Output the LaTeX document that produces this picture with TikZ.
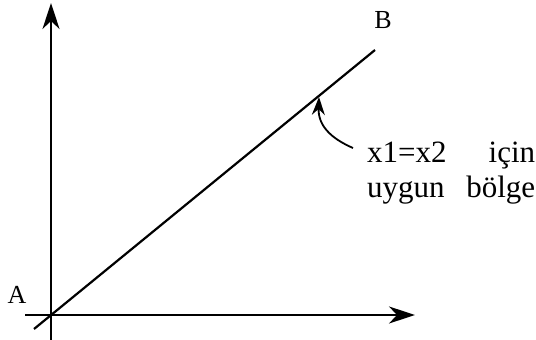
\documentclass[tikz,border=0pt]{standalone}
\usepackage{fontspec}
\setmainfont{Liberation Serif}
\usetikzlibrary{arrows.meta}
\begin{document}
\begin{tikzpicture}[x=1pt,y=1pt,
  axis/.style={line width=2.2pt,-{Stealth[length=26pt,width=17pt,inset=8pt]}},
  lbl/.style={font=\fontsize{26}{30}\selectfont,inner sep=0pt},
  note/.style={font=\fontsize{31}{35}\selectfont,inner sep=0pt,text width=168pt,align=left}]
\useasboundingbox (0,0) rectangle (536,340);
\coordinate (O) at (51,25);
\coordinate (ybot) at (51,0);
\coordinate (ytop) at (51,337);
\coordinate (xleft) at (25,25);
\coordinate (xright) at (415,25);
\coordinate (dlow) at (34,11);
\coordinate (dhigh) at (375,290);
\coordinate (tip) at (319,243);
\draw[axis] (ybot) -- (ytop);
\draw[axis] (xleft) -- (xright);
\draw[line width=2.2pt] (dlow) -- (dhigh);
\node[lbl] (A) at (17,45) {A};
\node[lbl] (B) at (383,320) {B};
\node[note,anchor=base west] (txt) at (367,177) {x1=x2\hfill için\hspace*{7pt}\\uygun\hfill bölge};
\draw[line width=1.8pt,-{Stealth[length=18pt,width=13pt,inset=6pt]}] (txt.base west) ++(-14,15) coordinate (cs) .. controls (330,202) and (318,215) .. (tip);
\end{tikzpicture}
\end{document}
